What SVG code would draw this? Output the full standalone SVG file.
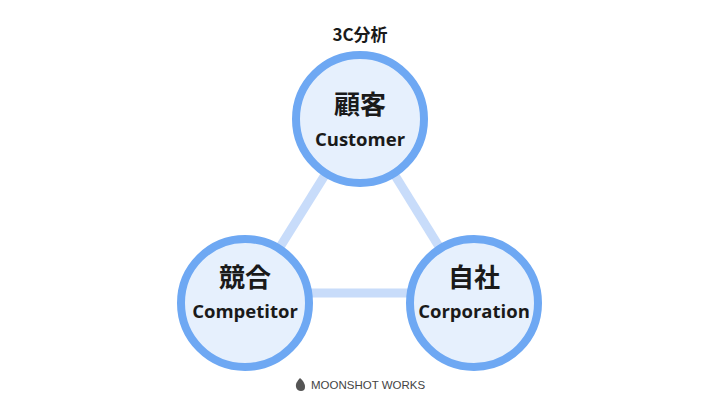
<svg xmlns="http://www.w3.org/2000/svg" width="720" height="405" viewBox="0 0 720 405">
<style>
.n{fill:#e6f0fd;stroke:#6ea8f3;stroke-width:8}
.j{font-family:"Noto Sans CJK JP",sans-serif;font-weight:bold;font-size:26px;fill:#1a1a1a;text-anchor:middle}
.e{font-family:"Open Sans","Noto Sans",sans-serif;font-weight:bold;font-size:18.5px;fill:#1a1a1a;text-anchor:middle}
.c{stroke:#c8dcfa;stroke-width:9}
</style>
<rect width="720" height="405" fill="#fff"/>
<text x="360" y="41" class="j" style="font-size:17px">3C分析</text>
<g id="connectors">
<line class="c" x1="360" y1="119" x2="245" y2="303"/>
<line class="c" x1="360" y1="119" x2="474" y2="303"/>
<line class="c" x1="245" y1="293" x2="474" y2="293"/>
</g>
<g id="customer"><circle class="n" cx="360" cy="119" r="64"/><text class="j" x="360" y="114">顧客</text><text class="e" x="360" y="146">Customer</text></g>
<g id="competitor"><circle class="n" cx="245" cy="303" r="64"/><text class="j" x="245" y="287">競合</text><text class="e" x="245" y="318">Competitor</text></g>
<g id="corporation"><circle class="n" cx="474" cy="303" r="64"/><text class="j" x="474" y="287">自社</text><text class="e" x="474" y="318">Corporation</text></g>
<g id="logo"><path d="M300 378 q-5 5 -4 9 q1 4 5 4 q4 0 4 -4 q0 -5 -5 -9z" fill="#555"/><text x="311" y="389" font-family="Liberation Sans,sans-serif" font-size="11.5" fill="#444">MOONSHOT WORKS</text></g>
</svg>
